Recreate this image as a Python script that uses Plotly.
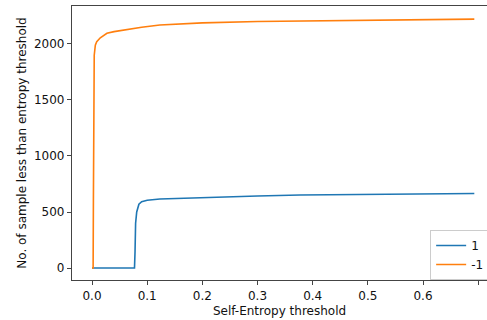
import plotly.graph_objects as go

# Series "1" (blue)
x_pos = [0, 0.077, 0.078, 0.079, 0.081, 0.085, 0.09, 0.1, 0.123, 0.2, 0.3, 0.377, 0.5, 0.6, 0.693]
y_pos = [0, 0, 150, 400, 500, 570, 592, 605, 616, 630, 643, 652, 656, 660, 665]

# Series "-1" (orange)
x_neg = [0, 0.002, 0.0025, 0.003, 0.004, 0.006, 0.0085, 0.015, 0.027, 0.04, 0.063, 0.09, 0.123, 0.2, 0.3, 0.4, 0.5, 0.6, 0.693]
y_neg = [0, 0, 600, 1500, 1900, 1990, 2020, 2055, 2095, 2110, 2130, 2150, 2170, 2188, 2200, 2207, 2212, 2217, 2222]

x_ticks = [0.0, 0.1, 0.2, 0.3, 0.4, 0.5, 0.6, 0.7]
y_ticks = [0, 500, 1000, 1500, 2000]

fig = go.Figure()
fig.add_trace(go.Scatter(x=x_pos, y=y_pos, mode="lines", name="1",
                         line=dict(color="#1f77b4", width=1.6)))
fig.add_trace(go.Scatter(x=x_neg, y=y_neg, mode="lines", name="-1",
                         line=dict(color="#ff7f0e", width=1.6)))

font = dict(family="DejaVu Sans", size=12, color="#111")
fig.update_layout(
    width=487, height=320,
    margin=dict(l=72, r=0, t=6, b=40, autoexpand=False),
    paper_bgcolor="white", plot_bgcolor="white",
    font=font,
    showlegend=True,
    legend=dict(x=0.863, y=0.0, xanchor="left", yanchor="bottom",
                bgcolor="rgba(255,255,255,0.8)", bordercolor="#ccc", borderwidth=1,
                font=dict(family="DejaVu Sans", size=12, color="#111"),
                tracegroupgap=0, itemwidth=30),
    xaxis=dict(range=[-0.0363, 0.716], tickvals=x_ticks,
               ticktext=[f"{v:.1f}" for v in x_ticks], automargin=False,
               showgrid=False, zeroline=False, showline=True, mirror=True,
               linecolor="#444", linewidth=1.2, ticks="outside", ticklen=4,
               tickcolor="#444", tickfont=font,
               title=dict(text="Self-Entropy threshold", standoff=5, font=font)),
    yaxis=dict(range=[-107, 2339], tickvals=y_ticks, automargin=False,
               showgrid=False, zeroline=False, showline=True, mirror=False,
               linecolor="#444", linewidth=1.2, ticks="outside", ticklen=4,
               tickcolor="#444", tickfont=font,
               title=dict(text="No. of sample less than entropy threshold", standoff=4, font=font)),
)

fig.write_html("out.html", config={"displayModeBar": False},
               post_script="document.body.style.margin='0';")
